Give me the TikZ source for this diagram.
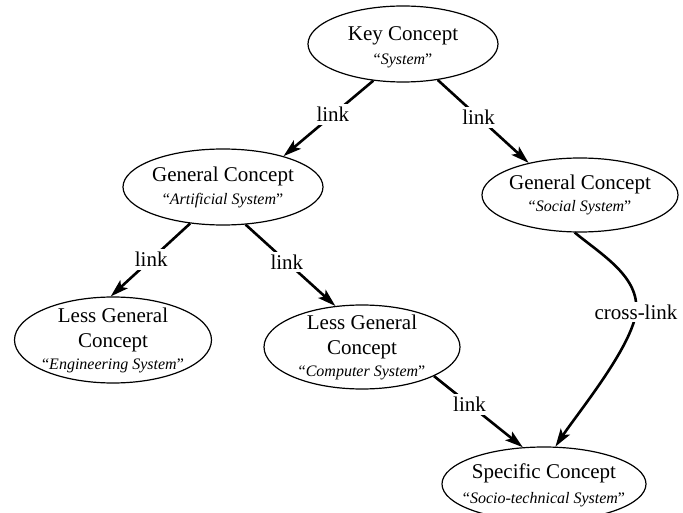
\documentclass[tikz,border=0pt]{standalone}
\usepackage{fontspec}
\setmainfont{Liberation Serif}
\usetikzlibrary{arrows.meta,shapes.geometric}
\tikzset{
 concept/.style={ellipse, draw, line width=1.2pt, inner sep=0pt},
 ctext/.style={align=center, font=\fontsize{21}{25}\selectfont, inner sep=0pt},
 arr/.style={line width=2.6pt, -{Stealth[length=18pt,width=11pt,inset=4pt]}},
 lbl/.style={fill=white, inner sep=3pt, font=\fontsize{21}{25}\selectfont},
}
\newcommand{\subt}[1]{{\fontsize{16}{19}\selectfont “\textit{#1}”}}
\begin{document}
\begin{tikzpicture}[x=1pt,y=-1pt]
\useasboundingbox (0,0) rectangle (683,513);
\node[concept, minimum width=190pt, minimum height=76pt,
  label={[ctext,yshift=-3pt]center:{Key Concept\\[-1pt]\subt{System}}}] (key) at (403,44) {};
\node[concept, minimum width=200pt, minimum height=76pt,
  label={[ctext]center:{General Concept\\[-2pt]\subt{Artificial System}}}] (art) at (223,187) {};
\node[concept, minimum width=196pt, minimum height=74pt,
  label={[ctext]center:{General Concept\\[-3pt]\subt{Social System}}}] (soc) at (580,195) {};
\node[concept, minimum width=197pt, minimum height=86pt,
  label={[ctext]center:{Less General\\Concept\\[-3pt]\subt{Engineering System}}}] (eng) at (113,340) {};
\node[concept, minimum width=196pt, minimum height=84pt,
  label={[ctext]center:{Less General\\Concept\\[-3pt]\subt{Computer System}}}] (comp) at (362,347) {};
\node[concept, minimum width=204pt, minimum height=74pt,
  label={[ctext,yshift=-1pt]center:{Specific Concept\\[0pt]\subt{Socio-technical System}}}] (spec) at (544,484) {};

\draw[arr] (key.231) -- node[lbl,pos=0.45] (l1) {link} (art.27);
\draw[arr] (key.314) -- node[lbl,pos=0.45] (l2) {link} (soc.148);
\draw[arr] (art.228) -- node[lbl,pos=0.49] (l3) {link} (eng.93);
\draw[arr] (art.301) -- node[lbl,pos=0.46] (l4) {link} (comp.123);
\draw[arr] (comp.338) -- node[lbl,pos=0.40] (l5) {link} (spec.120);
\draw[arr] (soc.262) .. controls (602,255) and (640,277) .. (636,312)
  node[lbl] (cl) {cross-link}
  .. controls (632,347) and (577,414) .. (spec.73);
\end{tikzpicture}
\end{document}
